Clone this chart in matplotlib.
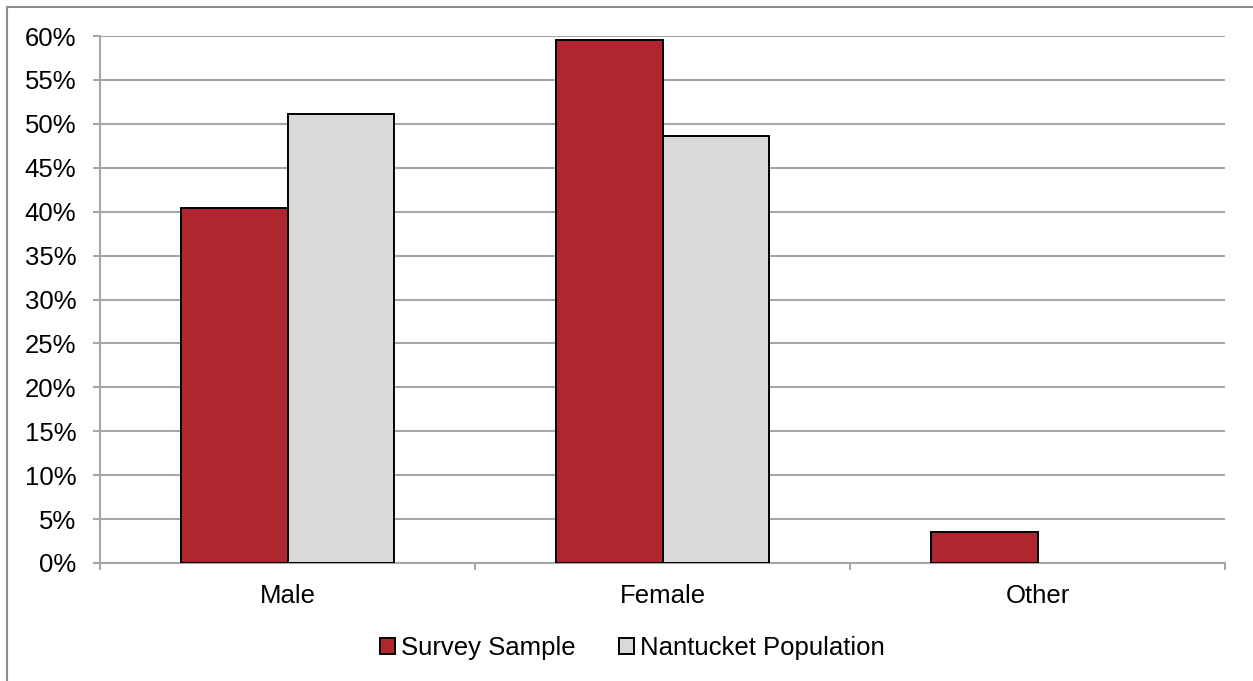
import matplotlib
matplotlib.use("Agg")
import matplotlib.pyplot as plt
from matplotlib.patches import Rectangle
from matplotlib.ticker import FixedLocator, NullFormatter
import numpy as np

categories = ["Male", "Female", "Other"]
survey_sample = [40.4, 59.5, 3.5]
nantucket_population = [51.1, 48.65, 0.0]
series_names = ["Survey Sample", "Nantucket Population"]
y_ticks = list(range(0, 61, 5))

red = "#B0262F"
light = "#D9D9D9"
grid_gray = "#A6A6A6"
fs = 18.5

plt.rcParams["font.family"] = ["Liberation Sans", "DejaVu Sans"]

W, H = 1253, 681
fig = plt.figure(figsize=(W / 100, H / 100), dpi=100)

# chart frame
fig.patches.append(Rectangle((7 / W, -0.01), 1.02, 1 - 7 / H + 0.01,
                             transform=fig.transFigure, fill=False,
                             edgecolor="#8C8C8C", linewidth=1.5))

left, right = 100 / W, 1225 / W
bottom, top = 1 - 563 / H, 1 - 36 / H
ax = fig.add_axes([left, bottom, right - left, top - bottom])

x = np.arange(len(categories))
bw = 0.285
ax.bar(x - bw / 2, survey_sample, bw, color=red, edgecolor="black",
       linewidth=1.4, label=series_names[0], zorder=3)
pop_x = [xi + bw / 2 for xi, v in zip(x, nantucket_population) if v > 0]
pop_v = [v for v in nantucket_population if v > 0]
ax.bar(pop_x, pop_v, bw, color=light, edgecolor="black",
       linewidth=1.4, label=series_names[1], zorder=3)

ax.set_xlim(-0.5, len(categories) - 0.5)
ax.set_ylim(0, 60)
ax.set_yticks(y_ticks)
ax.set_yticklabels([f"{t}%" for t in y_ticks])
ax.yaxis.grid(True, color=grid_gray, linewidth=1.5, zorder=0)
ax.set_axisbelow(True)

ax.set_xticks(x)
ax.set_xticklabels(categories)
ax.xaxis.set_minor_locator(FixedLocator(np.arange(-0.5, len(categories), 1.0)))
ax.xaxis.set_minor_formatter(NullFormatter())
ax.tick_params(axis="x", which="major", length=0, pad=15, labelsize=fs)
ax.tick_params(axis="x", which="minor", length=5, width=1.5, color=grid_gray)
ax.tick_params(axis="y", length=5, width=1.5, color=grid_gray, pad=12,
               labelsize=fs)

for s in ["top", "right"]:
    ax.spines[s].set_visible(False)
for s in ["left", "bottom"]:
    ax.spines[s].set_color(grid_gray)
    ax.spines[s].set_linewidth(1.5)

leg = fig.legend(loc="center", bbox_to_anchor=(632.5 / W, 1 - 648 / H), ncol=2,
                 frameon=False, fontsize=fs, handlelength=0.58,
                 handleheight=0.58, handletextpad=0.22, columnspacing=1.7)

fig.savefig("out.png", dpi=100)
